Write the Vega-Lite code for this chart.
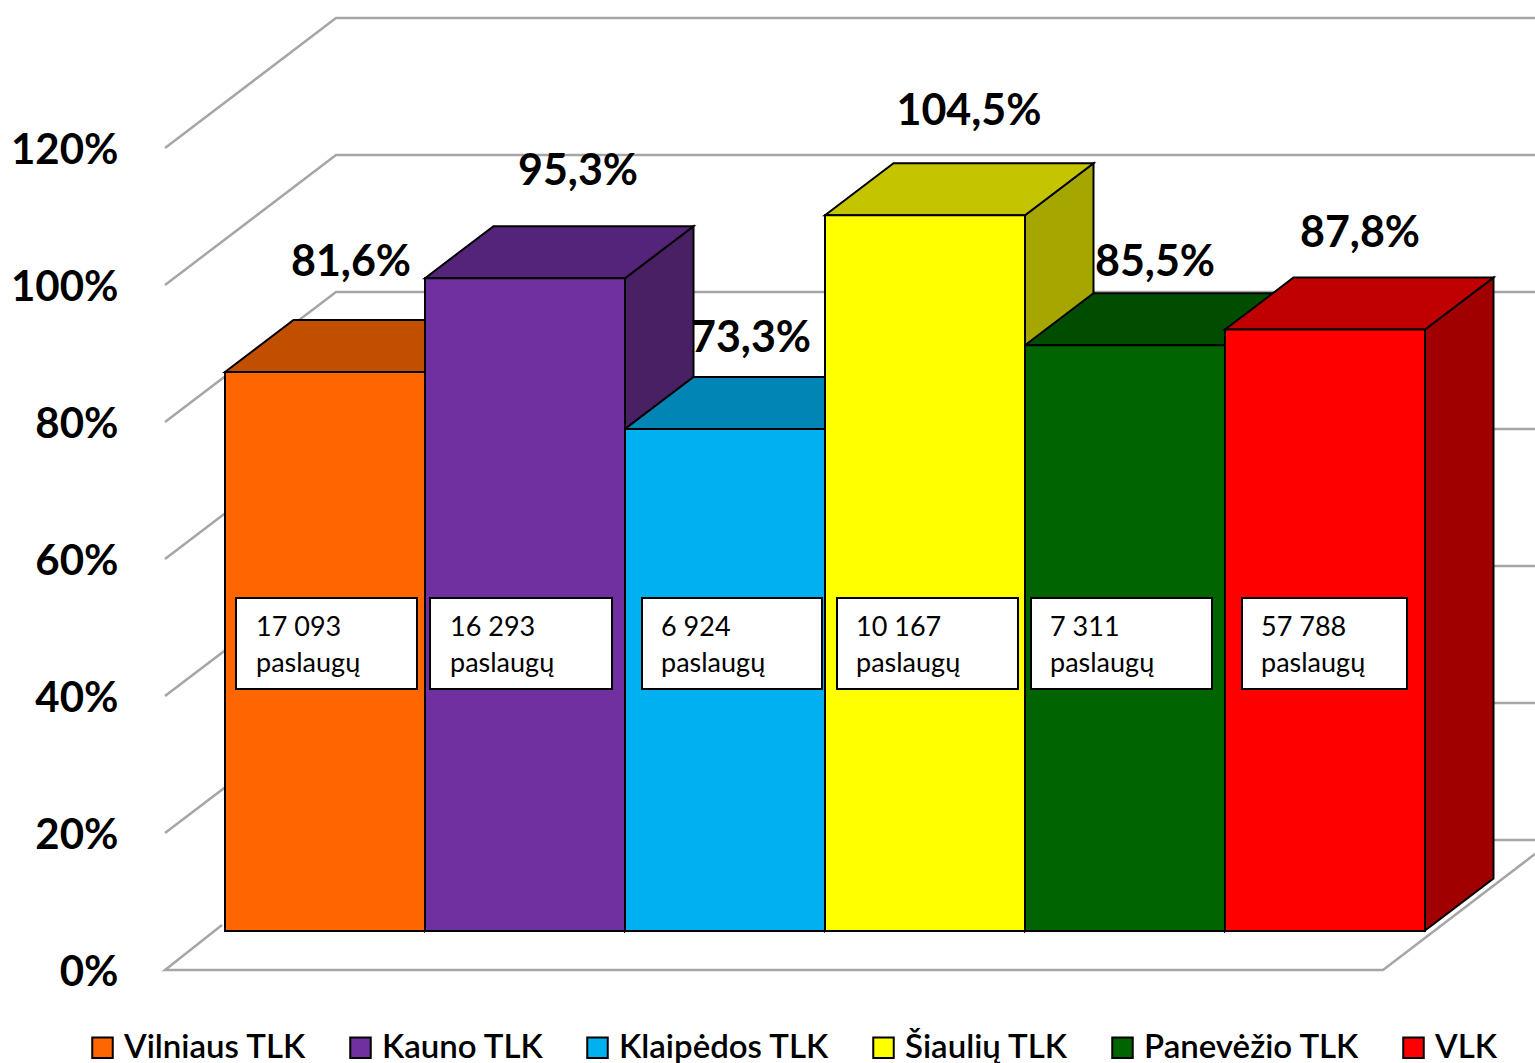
{"$schema":"https://vega.github.io/schema/vega-lite/v6.json","width":1370,"height":1063,"autosize":{"type":"none"},"padding":{"left":165,"top":0,"right":0,"bottom":0},"background":"white","data":{"values":[{"cat":"Vilniaus TLK","pct":81.6,"pctLabel":"81,6%","services":"17 093\npaslaugų"},{"cat":"Kauno TLK","pct":95.3,"pctLabel":"95,3%","services":"16 293\npaslaugų"},{"cat":"Klaipėdos TLK","pct":73.3,"pctLabel":"73,3%","services":"6 924\npaslaugų"},{"cat":"Šiaulių TLK","pct":104.5,"pctLabel":"104,5%","services":"10 167\npaslaugų"},{"cat":"Panevėžio TLK","pct":85.5,"pctLabel":"85,5%","services":"7 311\npaslaugų"},{"cat":"VLK","pct":87.8,"pctLabel":"87,8%","services":"57 788\npaslaugų"}]},"config":{"view":{"stroke":null},"font":"Lato"},"resolve":{"scale":{"color":"independent","shape":"independent"}},"layer":[{"data":{"values":[{"tick":20},{"tick":40},{"tick":60},{"tick":80},{"tick":100},{"tick":120}]},"mark":{"type":"point","filled":false,"size":4,"opacity":1,"stroke":"#a6a6a6","strokeWidth":2.5,"shape":"M-685,0L-514,-130L685,-130"},"encoding":{"y":{"field":"tick","type":"quantitative","scale":{"domain":[-13.577,141.606],"nice":false,"zero":false},"axis":{"values":[0,20,40,60,80,100,120],"labelExpr":"datum.value+'%'","ticks":false,"domain":false,"grid":false,"title":null,"labelFontSize":42,"labelFont":"Lato","labelFontWeight":"bold","labelColor":"black","labelPadding":47,"labelOffset":2.5,"labelOverlap":false}}}},{"data":{"values":[{"tick":0}]},"mark":{"type":"point","filled":false,"size":4,"opacity":1,"stroke":"#a6a6a6","strokeWidth":2.5,"shape":"M-628,-45L-685,0L533,0L685,-116M643,-130L685,-130"},"encoding":{"y":{"field":"tick","type":"quantitative"}}},{"mark":{"type":"point","filled":true,"size":4,"opacity":1,"stroke":"black","strokeWidth":2},"encoding":{"x":{"field":"cat","type":"nominal","sort":null,"axis":null,"scale":{"domain":["Vilniaus TLK","Kauno TLK","Klaipėdos TLK","Šiaulių TLK","Panevėžio TLK","VLK"],"range":[60,1260],"paddingInner":0,"paddingOuter":0}},"y":{"field":"pct","type":"quantitative"},"color":{"field":"cat","type":"nominal","sort":null,"legend":null,"scale":{"domain":["Vilniaus TLK","Kauno TLK","Klaipėdos TLK","Šiaulių TLK","Panevėžio TLK","VLK"],"range":["#a64300","#482063","#007aa6","#a6a600","#004000","#a00000"]}},"shape":{"field":"cat","type":"nominal","sort":null,"legend":null,"scale":{"domain":["Vilniaus TLK","Kauno TLK","Klaipėdos TLK","Šiaulių TLK","Panevėžio TLK","VLK"],"range":["M100,-39L168.5,-91L168.5,468L100,520Z","M100,-39L168.5,-91L168.5,562L100,614Z","M100,-39L168.5,-91L168.5,411L100,463Z","M100,-39L168.5,-91L168.5,625L100,677Z","M100,-39L168.5,-91L168.5,495L100,547Z","M100,-39L168.5,-91L168.5,510L100,562Z"]}}}},{"mark":{"type":"point","filled":true,"size":4,"opacity":1,"stroke":"black","strokeWidth":2,"shape":"M-100,-39L-31.5,-91L168.5,-91L100,-39Z"},"encoding":{"x":{"field":"cat","type":"nominal","sort":null,"axis":null},"y":{"field":"pct","type":"quantitative"},"color":{"field":"cat","type":"nominal","sort":null,"legend":null,"scale":{"domain":["Vilniaus TLK","Kauno TLK","Klaipėdos TLK","Šiaulių TLK","Panevėžio TLK","VLK"],"range":["#c24f00","#54237a","#0085b5","#c4c400","#004d00","#c00000"]}}}},{"mark":{"type":"bar","stroke":"black","strokeWidth":2,"yOffset":-39,"y2Offset":-39},"encoding":{"x":{"field":"cat","type":"nominal","sort":null,"axis":null},"y":{"field":"pct","type":"quantitative","stack":null},"y2":{"datum":0},"color":{"field":"cat","type":"nominal","sort":null,"scale":{"domain":["Vilniaus TLK","Kauno TLK","Klaipėdos TLK","Šiaulių TLK","Panevėžio TLK","VLK"],"range":["#ff6600","#7030a0","#00b0f0","#ffff00","#006400","#ff0000"]},"legend":{"orient":"none","legendX":-79,"legendY":1031,"direction":"horizontal","columns":6,"title":null,"symbolType":"square","symbolSize":420,"symbolStrokeColor":"black","symbolStrokeWidth":2,"symbolOpacity":1,"labelFontSize":33,"labelFont":"Lato","labelFontWeight":600,"labelColor":"black","labelOffset":5,"columnPadding":37,"labelLimit":400,"symbolBaseFillColor":"transparent"}}}},{"mark":{"type":"point","filled":true,"size":4,"opacity":1,"fill":"white","stroke":"black","strokeWidth":2},"encoding":{"x":{"field":"cat","type":"nominal","sort":null,"axis":null},"y":{"datum":47.66},"shape":{"field":"cat","type":"nominal","sort":null,"legend":null,"scale":{"domain":["Vilniaus TLK","Kauno TLK","Klaipėdos TLK","Šiaulių TLK","Panevėžio TLK","VLK"],"range":["M-89,-45.5L92,-45.5L92,45.5L-89,45.5Z","M-95,-45.5L87,-45.5L87,45.5L-95,45.5Z","M-83,-45.5L97,-45.5L97,45.5L-83,45.5Z","M-88,-45.5L93,-45.5L93,45.5L-88,45.5Z","M-94,-45.5L87,-45.5L87,45.5L-94,45.5Z","M-83,-45.5L82,-45.5L82,45.5L-83,45.5Z"]}}}},{"transform":[{"filter":{"field":"cat","oneOf":["Vilniaus TLK","Šiaulių TLK"]}}],"mark":{"type":"text","align":"left","baseline":"middle","dx":-69,"dy":-16,"fontSize":27,"font":"Lato","lineBreak":"\n","lineHeight":36,"color":"black"},"encoding":{"x":{"field":"cat","type":"nominal","sort":null,"axis":null},"y":{"datum":47.66},"text":{"field":"services"}}},{"transform":[{"filter":{"field":"cat","oneOf":["Kauno TLK","Panevėžio TLK"]}}],"mark":{"type":"text","align":"left","baseline":"middle","dx":-75,"dy":-16,"fontSize":27,"font":"Lato","lineBreak":"\n","lineHeight":36,"color":"black"},"encoding":{"x":{"field":"cat","type":"nominal","sort":null,"axis":null},"y":{"datum":47.66},"text":{"field":"services"}}},{"transform":[{"filter":{"field":"cat","oneOf":["Klaipėdos TLK","VLK"]}}],"mark":{"type":"text","align":"left","baseline":"middle","dx":-64,"dy":-16,"fontSize":27,"font":"Lato","lineBreak":"\n","lineHeight":36,"color":"black"},"encoding":{"x":{"field":"cat","type":"nominal","sort":null,"axis":null},"y":{"datum":47.66},"text":{"field":"services"}}},{"transform":[{"filter":{"field":"cat","equal":"Vilniaus TLK"}}],"mark":{"type":"text","dx":26,"dy":-148,"fontSize":43,"font":"Lato","fontWeight":"bold","baseline":"middle","color":"black"},"encoding":{"x":{"field":"cat","type":"nominal","sort":null,"axis":null},"y":{"field":"pct","type":"quantitative"},"text":{"field":"pctLabel"}}},{"transform":[{"filter":{"field":"cat","equal":"Kauno TLK"}}],"mark":{"type":"text","dx":53,"dy":-145,"fontSize":43,"font":"Lato","fontWeight":"bold","baseline":"middle","color":"black"},"encoding":{"x":{"field":"cat","type":"nominal","sort":null,"axis":null},"y":{"field":"pct","type":"quantitative"},"text":{"field":"pctLabel"}}},{"transform":[{"filter":{"field":"cat","equal":"Klaipėdos TLK"}}],"mark":{"type":"text","dx":26,"dy":-129,"fontSize":43,"font":"Lato","fontWeight":"bold","baseline":"middle","color":"black"},"encoding":{"x":{"field":"cat","type":"nominal","sort":null,"axis":null},"y":{"field":"pct","type":"quantitative"},"text":{"field":"pctLabel"}}},{"transform":[{"filter":{"field":"cat","equal":"Šiaulių TLK"}}],"mark":{"type":"text","dx":44,"dy":-142,"fontSize":43,"font":"Lato","fontWeight":"bold","baseline":"middle","color":"black"},"encoding":{"x":{"field":"cat","type":"nominal","sort":null,"axis":null},"y":{"field":"pct","type":"quantitative"},"text":{"field":"pctLabel"}}},{"transform":[{"filter":{"field":"cat","equal":"Panevėžio TLK"}}],"mark":{"type":"text","dx":30,"dy":-121,"fontSize":43,"font":"Lato","fontWeight":"bold","baseline":"middle","color":"black"},"encoding":{"x":{"field":"cat","type":"nominal","sort":null,"axis":null},"y":{"field":"pct","type":"quantitative"},"text":{"field":"pctLabel"}}},{"transform":[{"filter":{"field":"cat","equal":"VLK"}}],"mark":{"type":"text","dx":35,"dy":-135,"fontSize":43,"font":"Lato","fontWeight":"bold","baseline":"middle","color":"black"},"encoding":{"x":{"field":"cat","type":"nominal","sort":null,"axis":null},"y":{"field":"pct","type":"quantitative"},"text":{"field":"pctLabel"}}}]}
